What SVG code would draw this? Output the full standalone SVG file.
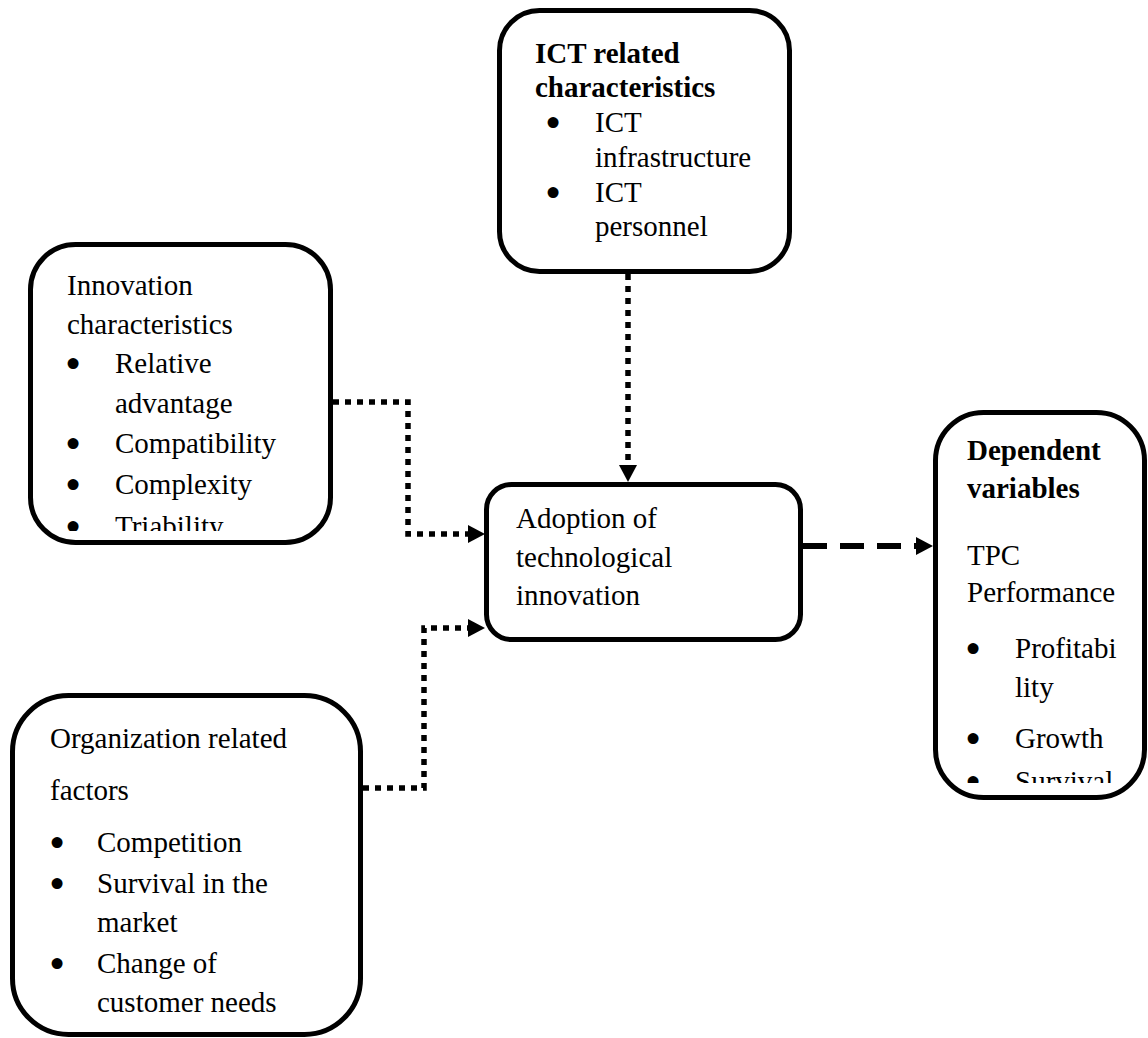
<svg xmlns="http://www.w3.org/2000/svg" width="1148" height="1038" viewBox="0 0 1148 1038">
  <style>
    .box { fill: #ffffff; stroke: #000000; stroke-width: 5; }
    .t { font-family: "Liberation Serif", "Times New Roman", serif; font-size: 29px; fill: #000000; }
    .b { font-weight: bold; }
    .bul { text-anchor: middle; stroke: #000000; stroke-width: 4; stroke-linejoin: round; }
    .dot { fill: none; stroke: #000000; stroke-width: 5.5; stroke-dasharray: 6 6; }
    .dash { fill: none; stroke: #000000; stroke-width: 6; stroke-dasharray: 24 13; }
  </style>
  <defs>
    <marker id="arrowhead" markerUnits="userSpaceOnUse" markerWidth="18" markerHeight="18" refX="0" refY="9" orient="auto">
      <path d="M0,0 L17,9 L0,18 Z" fill="#000000"/>
    </marker>
    <clipPath id="clip-innovation"><rect x="30" y="244" width="300" height="287"/></clipPath>
    <clipPath id="clip-dependent"><rect x="935" y="412" width="210" height="371"/></clipPath>
  </defs>

  <rect width="1148" height="1038" fill="#ffffff"/>

  <!-- connectors -->
  <g id="connectors">
    <path class="dot" d="M628,274 V465" marker-end="url(#arrowhead)"/>
    <path class="dot" d="M333,402 H408 V534 H468" marker-end="url(#arrowhead)"/>
    <path class="dot" d="M363,788 H424 V628 H468" marker-end="url(#arrowhead)"/>
    <path class="dash" d="M803,546 H916" marker-end="url(#arrowhead)"/>
  </g>

  <!-- ICT related characteristics -->
  <g id="ict">
    <rect class="box" x="499.5" y="10.5" width="290" height="261" rx="40"/>
    <text class="t b" x="535" y="63">ICT related</text>
    <text class="t b" x="535" y="97">characteristics</text>
    <text class="t bul" x="553" y="133">•</text>
    <text class="t" x="595" y="132">ICT</text>
    <text class="t" x="595" y="167">infrastructure</text>
    <text class="t bul" x="553" y="203">•</text>
    <text class="t" x="595" y="202">ICT</text>
    <text class="t" x="595" y="236">personnel</text>
  </g>

  <!-- Innovation characteristics -->
  <g id="innovation">
    <rect class="box" x="30.5" y="244.5" width="300" height="298" rx="45"/>
    <g clip-path="url(#clip-innovation)">
      <text class="t" x="67" y="295">Innovation</text>
      <text class="t" x="67" y="334">characteristics</text>
      <text class="t bul" x="73" y="374">•</text>
      <text class="t" x="115" y="373">Relative</text>
      <text class="t" x="115" y="413">advantage</text>
      <text class="t bul" x="73" y="454">•</text>
      <text class="t" x="115" y="453">Compatibility</text>
      <text class="t bul" x="73" y="495">•</text>
      <text class="t" x="115" y="494">Complexity</text>
      <text class="t bul" x="73" y="537">•</text>
      <text class="t" x="115" y="536">Triability</text>
    </g>
  </g>

  <!-- Adoption of technological innovation -->
  <g id="adoption">
    <rect class="box" x="486.5" y="484.5" width="314" height="155" rx="25"/>
    <text class="t" x="516" y="528">Adoption of</text>
    <text class="t" x="516" y="567">technological</text>
    <text class="t" x="516" y="605">innovation</text>
  </g>

  <!-- Organization related factors -->
  <g id="organization">
    <rect class="box" x="12.5" y="695.5" width="348" height="339" rx="56"/>
    <text class="t" x="50" y="748">Organization related</text>
    <text class="t" x="50" y="800">factors</text>
    <text class="t bul" x="57" y="853">•</text>
    <text class="t" x="97" y="852">Competition</text>
    <text class="t bul" x="57" y="894">•</text>
    <text class="t" x="97" y="893">Survival in the</text>
    <text class="t" x="97" y="932">market</text>
    <text class="t bul" x="57" y="974">•</text>
    <text class="t" x="97" y="973">Change of</text>
    <text class="t" x="97" y="1012">customer needs</text>
  </g>

  <!-- Dependent variables -->
  <g id="dependent">
    <rect class="box" x="935.5" y="412.5" width="209" height="385" rx="48"/>
    <g clip-path="url(#clip-dependent)">
      <text class="t b" x="967" y="460">Dependent</text>
      <text class="t b" x="967" y="498">variables</text>
      <text class="t" x="967" y="565">TPC</text>
      <text class="t" x="967" y="602">Performance</text>
      <text class="t bul" x="973" y="659">•</text>
      <text class="t" x="1015" y="658">Profitabi</text>
      <text class="t" x="1015" y="697">lity</text>
      <text class="t bul" x="973" y="749">•</text>
      <text class="t" x="1015" y="748">Growth</text>
      <text class="t bul" x="973" y="792">•</text>
      <text class="t" x="1015" y="791">Survival</text>
    </g>
  </g>
</svg>
